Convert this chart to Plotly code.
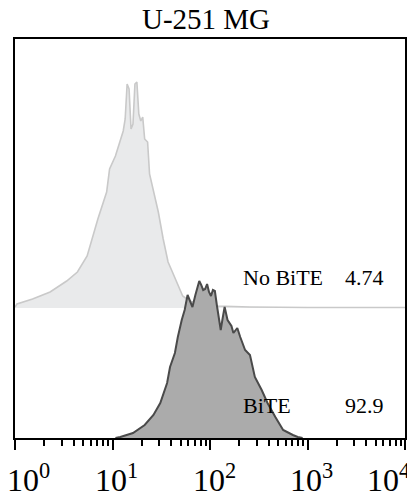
import math
import plotly.graph_objects as go

# ---------------- data ----------------
title_text = "U-251 MG"

tick_values = [1, 10, 100, 1000, 10000]
tick_labels = ["10<sup>0</sup>", "10<sup>1</sup>", "10<sup>2</sup>", "10<sup>3</sup>", "10<sup>4</sup>"]

# "No BiTE" histogram: bin position (log10 of fluorescence) and event count
no_bite_log10 = [0.00, 0.02, 0.18, 0.36, 0.53, 0.64, 0.74, 0.79, 0.85, 0.94, 0.97, 1.03, 1.08, 1.11,
                 1.13, 1.15, 1.17, 1.19, 1.21, 1.23, 1.25, 1.27, 1.29, 1.31, 1.33, 1.36, 1.38, 1.42,
                 1.47, 1.52, 1.57, 1.61, 1.66, 1.72, 1.79, 1.90, 2.07, 2.41, 3.00, 4.00]
no_bite_counts = [1, 4, 9, 16, 27, 36, 52, 69, 89, 116, 139, 152, 169, 177,
                  189, 224, 219, 179, 184, 224, 226, 194, 187, 191, 169, 166, 134, 116,
                  96, 69, 46, 37, 26, 12, 7, 4, 2, 1, 0.5, 0.5]

# "BiTE" histogram
bite_log10 = [1.03, 1.08, 1.21, 1.33, 1.42, 1.49, 1.56, 1.59, 1.64, 1.67, 1.71, 1.74, 1.77, 1.79,
              1.82, 1.85, 1.87, 1.89, 1.91, 1.93, 1.95, 1.97, 1.99, 2.01, 2.03, 2.05, 2.07, 2.09,
              2.11, 2.13, 2.15, 2.18, 2.22, 2.24, 2.28, 2.31, 2.36, 2.41, 2.46, 2.53, 2.59, 2.67,
              2.75, 2.85, 2.90, 2.95]
bite_counts = [0, 1, 5, 13, 23, 35, 55, 71, 85, 101, 118, 128, 143, 138,
               131, 143, 150, 157, 153, 148, 149, 154, 146, 142, 148, 147, 133, 118,
               108, 120, 131, 118, 112, 105, 110, 101, 88, 83, 61, 48, 35, 21,
               8, 3, 1, 0]

sample_names = ["No BiTE", "BiTE"]
sample_percents = ["4.74", "92.9"]

# ---------------- layout constants ----------------
STACK_OFFSET = 130      # vertical offset of the upper (No BiTE) histogram
Y_MAX = 399
FONT = "Liberation Serif, Times New Roman, serif"
FIG_W, FIG_H = 407, 492  # page body has an 8px margin

fig = go.Figure()

nb_x = [10 ** v for v in no_bite_log10]
fig.add_trace(go.Scatter(x=nb_x, y=[STACK_OFFSET] * len(nb_x), mode="lines",
                         line=dict(width=0, color="rgba(0,0,0,0)"),
                         hoverinfo="skip", showlegend=False))
fig.add_trace(go.Scatter(x=nb_x, y=[STACK_OFFSET + c for c in no_bite_counts], mode="lines",
                         fill="tonexty", fillcolor="#e9eaeb",
                         line=dict(color="#c9c9c9", width=1.6),
                         name=sample_names[0], showlegend=False))
fig.add_trace(go.Scatter(x=[10 ** v for v in bite_log10], y=bite_counts, mode="lines",
                         fill="tozeroy", fillcolor="#ababab",
                         line=dict(color="#4a4a4a", width=2),
                         name=sample_names[1], showlegend=False))

minor_vals = [m * d for d in [1, 10, 100, 1000] for m in range(2, 10)]

fig.update_xaxes(type="log", range=[0, 4], tickvals=tick_values, showticklabels=False,
                 ticks="outside", ticklen=10, tickwidth=1.5, tickcolor="black",
                 showline=True, linecolor="black", linewidth=1.5, mirror=True,
                 showgrid=False, zeroline=False,
                 minor=dict(tickvals=minor_vals, ticks="outside", ticklen=6,
                            tickwidth=1.5, tickcolor="black", showgrid=False))
fig.update_yaxes(range=[0, Y_MAX], showticklabels=False, ticks="",
                 showline=True, linecolor="black", linewidth=1.5, mirror=True,
                 showgrid=False, zeroline=False)

annotations = []
n = len(tick_values)
for i, (v, lab) in enumerate(zip(tick_values, tick_labels)):
    if i == 0:
        xa, xs = "left", -10
    elif i == n - 1:
        xa, xs = "right", 7
    else:
        xa, xs = "center", 4
    annotations.append(dict(x=math.log10(v), xref="x", y=0, yref="paper",
                            text=lab, showarrow=False, xanchor=xa, yanchor="top",
                            xshift=xs, yshift=-18,
                            font=dict(family=FONT, size=32, color="black")))

label_y = [0.402, 0.0815]
for name, pct, yy in zip(sample_names, sample_percents, label_y):
    annotations.append(dict(x=0.579, xref="paper", y=yy, yref="paper", text=name,
                            showarrow=False, xanchor="left", yanchor="middle",
                            font=dict(family=FONT, size=22, color="black")))
    annotations.append(dict(x=0.841, xref="paper", y=yy, yref="paper", text=pct,
                            showarrow=False, xanchor="left", yanchor="middle",
                            font=dict(family=FONT, size=22, color="black")))

fig.update_layout(
    width=FIG_W, height=FIG_H,
    margin=dict(l=7, r=10, t=31, b=62),
    paper_bgcolor="white", plot_bgcolor="white",
    title=dict(text=title_text, x=198 / FIG_W, xanchor="center", y=1 - 11 / FIG_H, yanchor="middle",
               font=dict(family=FONT, size=29, color="black")),
    annotations=annotations,
    showlegend=False,
)

fig.write_html("out.html")
